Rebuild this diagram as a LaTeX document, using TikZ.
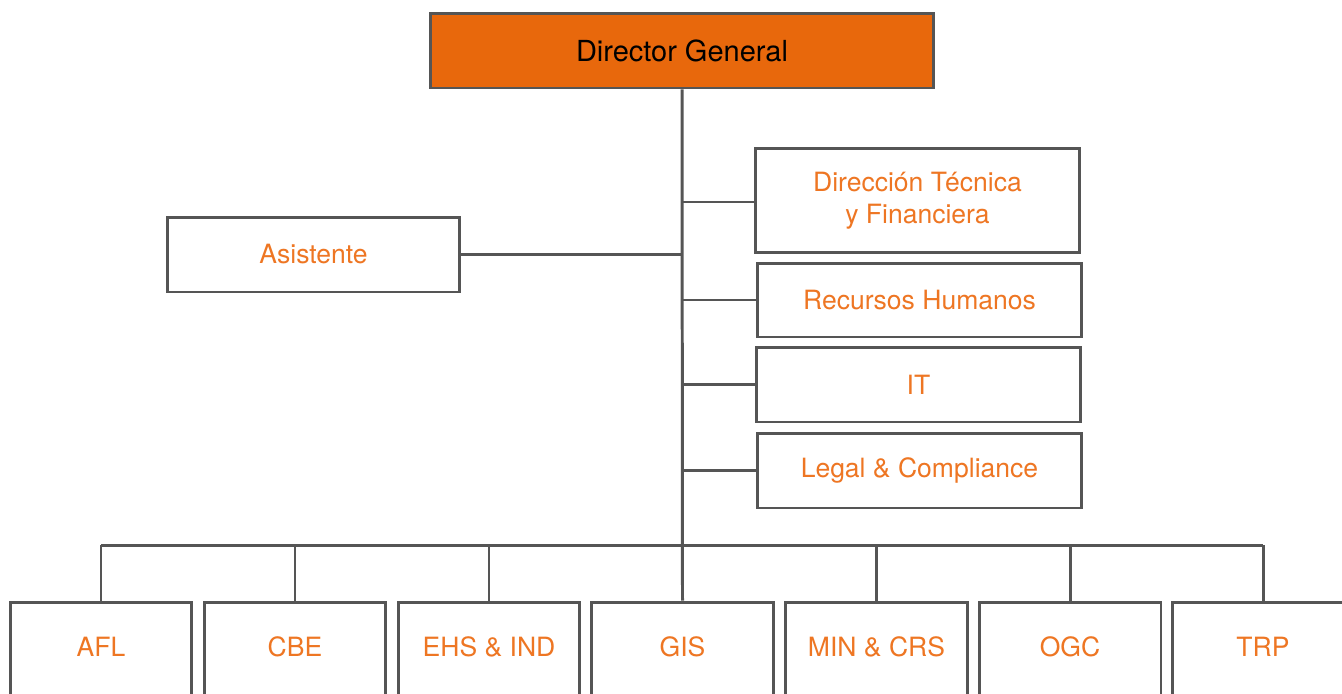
\documentclass[tikz,border=0pt]{standalone}
\usepackage{fontspec}
\setmainfont{TeX Gyre Heros}
\usetikzlibrary{calc}
\definecolor{orgfill}{HTML}{E8680C}
\definecolor{orgtext}{HTML}{EE7623}
\definecolor{orgline}{HTML}{555555}
\tikzset{
	unitbox/.style={draw=orgline, line width=1.7pt, fill=white, text=orgtext, font=\fontsize{15.1}{18.5}\selectfont, align=center, inner sep=0pt},
	topbox/.style={unitbox, fill=orgfill, text=black, font=\fontsize{16.5}{20}\selectfont, minimum width=10.08cm, minimum height=1.5cm},
	sidebox/.style={unitbox, minimum width=6.5cm, minimum height=1.5cm},
	areabox/.style={unitbox, minimum width=3.64cm, minimum height=2cm, text depth=0.2cm},
	link/.style={draw=orgline, line width=1.7pt}
}

\begin{document}
\begin{tikzpicture}[x=0.02cm, y=-0.02cm]
			%%%%% START %%%%%
			\useasboundingbox (0, 0) rectangle (1342, 693);
			\clip (0, 0) rectangle (1342, 693);
			
			\node[topbox] (dg) at (682, 50.5) {Director General};
			
			\node[unitbox, minimum width=5.86cm, minimum height=1.5cm] (asis) at (313.5, 254.5) {Asistente};
			
			\node[sidebox, minimum height=2.1cm] (dtf) at (917.5, 200.5) {Dirección Técnica\\y Financiera};
			\node[sidebox, minimum height=1.48cm] (rh) at (919.5, 300) {Recursos Humanos};
			\node[sidebox] (it) at (918.5, 384.5) {IT};
			\node[sidebox] (legal) at (919.5, 470.5) {Legal \& Compliance};
			
			\node[areabox] (afl) at (101, 652) {AFL};
			\node[areabox] (cbe) at (295, 652) {CBE};
			\node[areabox] (ehs) at (489, 652) {EHS \& IND};
			\node[areabox] (gis) at (682.5, 652) {GIS};
			\node[areabox] (min) at (876.5, 652) {MIN \& CRS};
			\node[areabox] (ogc) at (1070, 652) {OGC};
			\node[areabox] (trp) at (1263, 652) {TRP};
			
			\coordinate (bus) at (682, 545);
			
			\draw[link] (dg.south) -- (gis.north);
			\draw[link] (asis.east) -- (asis.east -| dg.south);
			\draw[link] ($(dtf.west)+(0,1.5)$) -- ($(dtf.west -| dg.south)+(0,1.5)$);
			\draw[link] (rh.west) -- (rh.west -| dg.south);
			\draw[link] (it.west) -- (it.west -| dg.south);
			\draw[link] (legal.west) -- (legal.west -| dg.south);
			
			\draw[link] (afl.north |- bus) -- (trp.north |- bus);
			\foreach \unit in {afl, cbe, ehs, min, ogc, trp}
				\draw[link] (\unit.north) -- (\unit.north |- bus);
			%%%%% END %%%%%
\end{tikzpicture}
\end{document}
